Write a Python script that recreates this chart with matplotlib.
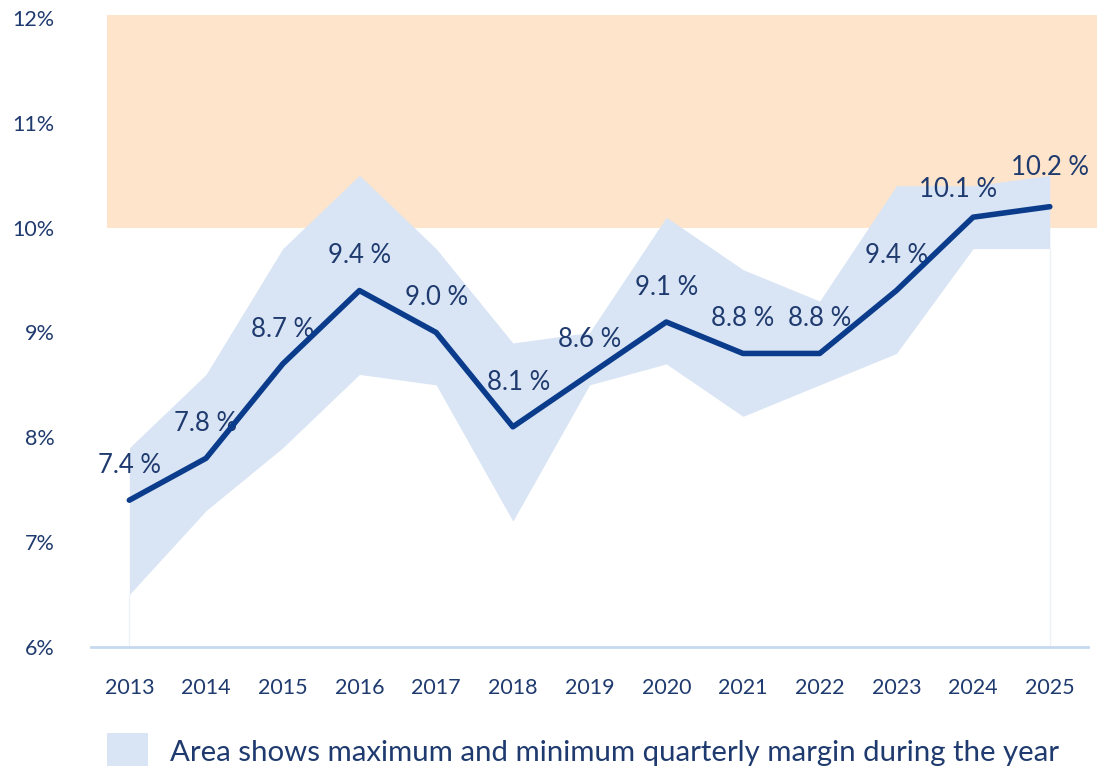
import numpy as np
import matplotlib.pyplot as plt
from matplotlib.patches import Rectangle

years = ['2013', '2014', '2015', '2016', '2017', '2018', '2019',
         '2020', '2021', '2022', '2023', '2024', '2025']
margin = [7.4, 7.8, 8.7, 9.4, 9.0, 8.1, 8.6, 9.1, 8.8, 8.8, 9.4, 10.1, 10.2]
q_max = [7.9, 8.6, 9.8, 10.5, 9.8, 8.9, 9.0, 10.1, 9.6, 9.3, 10.4, 10.4, 10.5]
q_min = [6.5, 7.3, 7.9, 8.6, 8.5, 7.2, 8.5, 8.7, 8.2, 8.5, 8.8, 9.8, 9.8]
target_low, target_high = 10.0, 12.03

plt.rcParams['font.family'] = ['Lato', 'DejaVu Sans']

line_col = '#0B3C8C'
text_col = '#1F3A6E'
band_col = '#D9E5F5'
orange = '#FEE4CA'

fig = plt.figure(figsize=(11.08, 7.66), dpi=100)
ax = fig.add_axes([0.0821, 0.1554, 0.9000, 0.8211])
x = np.arange(len(years))

# target zone
ax.add_patch(Rectangle((-0.29, target_low), 12.9, target_high - target_low,
                       facecolor=orange, edgecolor='none', clip_on=False, zorder=0))

# drop lines at the ends
ax.plot([x[0], x[0]], [6, q_min[0]], color='#EEF2F8', lw=1, zorder=1)
ax.plot([x[-1], x[-1]], [6, q_min[-1]], color='#EEF2F8', lw=1, zorder=1)

ax.fill_between(x, q_min, q_max, color=band_col, lw=0, zorder=2)
ax.plot(x, margin, color=line_col, lw=4, solid_capstyle='round',
        solid_joinstyle='round', zorder=4)

# label offsets (points), a few nudged so they don't collide
nudge = {5: (4, 7), 11: (-11, -5), 12: (0, 3)}
for i, (xi, v) in enumerate(zip(x, margin)):
    dx, dy = nudge.get(i, (0, 0))
    ax.annotate(f'{v:.1f} %', (xi, v), xytext=(dx, 25 + dy), textcoords='offset points',
                ha='center', va='center', fontsize=18.5, color=text_col, zorder=3)

ax.set_xlim(-0.5, 12.5)
ax.set_ylim(6, 12)
ax.set_xticks(x)
ax.set_xticklabels(years)
ax.set_yticks(range(6, 13))
ax.set_yticklabels([f'{t}%' for t in range(6, 13)])
ax.tick_params(length=0, labelsize=15.5, labelcolor=text_col)
ax.tick_params(axis='x', pad=22)
ax.tick_params(axis='y', pad=26)
for s in ['top', 'right', 'left']:
    ax.spines[s].set_visible(False)
ax.spines['bottom'].set_color('#C6D9F1')
ax.spines['bottom'].set_linewidth(2)
ax.patch.set_alpha(0)

# legend note
fig.patches.append(Rectangle((107 / 1108, 0), 41 / 1108, 33 / 766,
                             transform=fig.transFigure, facecolor=band_col,
                             edgecolor='none'))
fig.text(170 / 1108, 13 / 766, 'Area shows maximum and minimum quarterly margin during the year',
         fontsize=21.2, color=text_col, ha='left', va='center')

fig.savefig('out.png', dpi=100)
